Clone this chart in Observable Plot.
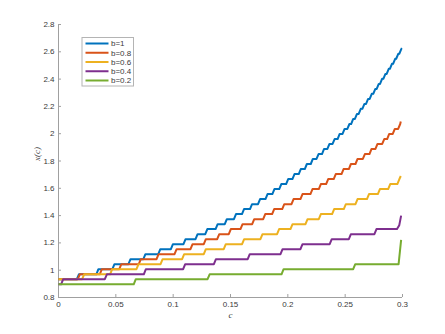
<!DOCTYPE html>
<html><head><meta charset="utf-8">
<script src="https://cdn.jsdelivr.net/npm/d3@7"></script>
<script src="https://cdn.jsdelivr.net/npm/@observablehq/plot@0.6"></script>
<style>body{margin:0;background:#fff;} #chart{width:445px;height:334px;}</style>
</head><body><div id="chart"></div>
<script>
const seriesNames = ["b=1", "b=0.8", "b=0.6", "b=0.4", "b=0.2"];
const seriesColors = ["#0072BD", "#D95319", "#EDB120", "#7E2F8E", "#77AC30"];
const startLevels = [0.934, 0.934, 0.934, 0.897, 0.897];

// b=1 : positions of the steps and the level reached after each step
const b1C = [0.016,0.033,0.047,0.061,0.074,0.087,0.098,0.109,0.1195,0.128,0.137,0.145,0.153,0.160,0.167,0.174,0.1805,0.1865,0.1925,0.1985,0.204,0.2095,0.2148,0.220,0.225,0.2298,0.2345,0.239,0.2434,0.2477,0.2519,0.2552,0.2585,0.2618,0.2650,0.2682,0.2714,0.2745,0.2775,0.2804,0.2833,0.2862,0.2890,0.2918,0.2945,0.2972];
const b1Y = [0.970,1.007,1.044,1.081,1.117,1.154,1.191,1.227,1.264,1.301,1.337,1.374,1.411,1.448,1.484,1.521,1.558,1.594,1.631,1.668,1.704,1.741,1.778,1.815,1.851,1.888,1.925,1.961,1.998,2.035,2.071,2.108,2.145,2.182,2.218,2.255,2.292,2.328,2.365,2.402,2.438,2.475,2.512,2.549,2.585,2.622];
const b1Tail = [[0.2985, 2.622]];

// b=0.8
const b08C = [0.0168,0.036,0.053,0.070,0.0855,0.1012,0.1151,0.1267,0.1384,0.1485,0.1587,0.1689,0.1785,0.1863,0.1951,0.2032,0.211,0.2197,0.227,0.2334,0.240,0.2468,0.2532,0.259,0.2654,0.2712,0.2764,0.2823,0.2866,0.2915,0.2962];
const b08Y = [0.970,1.007,1.044,1.081,1.117,1.154,1.191,1.227,1.264,1.301,1.337,1.374,1.411,1.448,1.484,1.521,1.558,1.594,1.631,1.668,1.704,1.741,1.778,1.815,1.851,1.888,1.925,1.961,1.998,2.035,2.071];
const b08Tail = [[0.2985, 2.09]];

// b=0.6
const b06C = [0.0206,0.045,0.068,0.089,0.1078,0.1267,0.1441,0.1601,0.1761,0.1906,0.2023,0.2154,0.227,0.2386,0.2488,0.259,0.269,0.2785,0.2875,0.2955];
const b06Y = [0.970,1.007,1.044,1.081,1.117,1.154,1.191,1.227,1.264,1.301,1.337,1.374,1.411,1.448,1.484,1.521,1.558,1.594,1.631,1.668];
const b06Tail = [[0.2985, 1.69]];

// b=0.4
const b04C = [0.0023,0.0404,0.0744,0.1087,0.1355,0.165,0.1936,0.211,0.2365,0.2532,0.2755];
const b04Y = [0.934,0.970,1.007,1.044,1.081,1.117,1.154,1.191,1.227,1.264,1.301];
const b04Tail = [[0.2952, 1.301], [0.2972, 1.33], [0.2988, 1.40]];

// b=0.2
const b02C = [0.0656,0.130,0.1945,0.257];
const b02Y = [0.934,0.970,1.007,1.044];
const b02Tail = [[0.2966, 1.044], [0.2988, 1.222]];

const xTicks = [0, 0.05, 0.1, 0.15, 0.2, 0.25, 0.3];
const yTicks = [0.8, 1, 1.2, 1.4, 1.6, 1.8, 2, 2.2, 2.4, 2.6, 2.8];

const stepC = [b1C, b08C, b06C, b04C, b02C];
const stepY = [b1Y, b08Y, b06Y, b04Y, b02Y];
const tails = [b1Tail, b08Tail, b06Tail, b04Tail, b02Tail];
const ramp = 0.0018;

const rows = [];
seriesNames.forEach((name, i) => {
  let prev = startLevels[i];
  rows.push({series: name, c: 0, v: prev});
  stepC[i].forEach((c, j) => {
    rows.push({series: name, c: c, v: prev});
    rows.push({series: name, c: c + ramp, v: stepY[i][j]});
    prev = stepY[i][j];
  });
  tails[i].forEach(([c, v]) => rows.push({series: name, c, v}));
});

const fmt = d => String(+d.toFixed(2));
const axisGray = "#a0a0a0";
const textGray = "#3a3a3a";
const serif = "'Liberation Serif', 'DejaVu Serif', serif";

const plot = Plot.plot({
  width: 445, height: 334,
  marginLeft: 58, marginRight: 43, marginTop: 24, marginBottom: 37,
  style: {fontFamily: "'Liberation Sans', Arial, Helvetica, sans-serif", fontSize: "8px", background: "#fff", color: textGray},
  x: {domain: [0, 0.3]},
  y: {domain: [0.8, 2.8]},
  color: {domain: seriesNames, range: seriesColors},
  marks: [
    Plot.ruleY([0.8], {stroke: axisGray, strokeWidth: 1}),
    Plot.ruleX([0], {stroke: axisGray, strokeWidth: 1}),
    Plot.axisX(xTicks, {anchor: "bottom", tickSize: 3, dy: -3, fill: "none", stroke: axisGray, label: null}),
    Plot.axisY(yTicks, {anchor: "left", tickSize: 3, dx: 3, fill: "none", stroke: axisGray, label: null}),
    Plot.axisX(xTicks, {anchor: "bottom", tickSize: 0, tickPadding: 4, tickFormat: fmt, fill: textGray, label: null}),
    Plot.axisY(yTicks, {anchor: "left", tickSize: 0, tickPadding: 4, tickFormat: fmt, fill: textGray, label: null}),
    Plot.line(rows, {x: "c", y: "v", z: "series", stroke: "series", strokeWidth: 2, strokeLinejoin: "round", strokeLinecap: "butt"}),
    Plot.text(["c"], {frameAnchor: "bottom", dy: 20, fontFamily: serif, fontStyle: "italic", fontSize: 9, fill: textGray}),
    Plot.text(["x(c)"], {frameAnchor: "left", dx: -21, rotate: -90, fontFamily: serif, fontStyle: "italic", fontSize: 9, fill: textGray})
  ]
});
document.getElementById("chart").appendChild(plot);

// legend inside the axes (top-left)
const svg = d3.select(plot);
const lg = svg.append("g").attr("transform", "translate(82,37.5)");
lg.append("rect").attr("width", 51.5).attr("height", 48.5).attr("fill", "#fff").attr("stroke", "#b4b4b4").attr("stroke-width", 1);
seriesNames.forEach((name, i) => {
  const y = 6 + i * 9.25;
  lg.append("line").attr("x1", 3.5).attr("x2", 26.5).attr("y1", y).attr("y2", y).attr("stroke", seriesColors[i]).attr("stroke-width", 2);
  lg.append("text").attr("x", 29).attr("y", y).attr("dy", "0.35em").attr("text-anchor", "start").attr("font-size", 8).attr("fill", textGray).attr("font-family", "'Liberation Sans', Arial, sans-serif").text(name);
});
</script>
</body></html>
